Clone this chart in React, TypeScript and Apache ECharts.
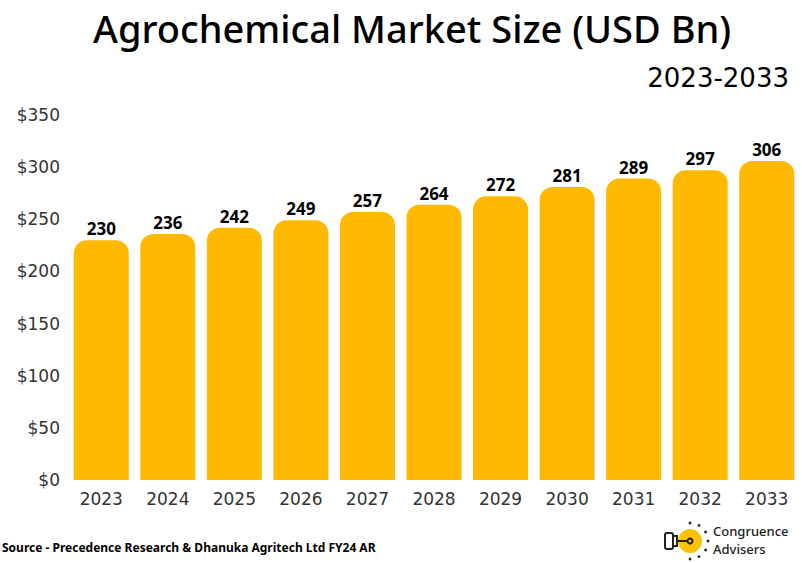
import React, { useEffect, useRef } from "react";
import * as echarts from "echarts";

const years = ["2023", "2024", "2025", "2026", "2027", "2028", "2029", "2030", "2031", "2032", "2033"];
const marketSize = [230, 236, 242, 249, 257, 264, 272, 281, 289, 297, 306];
const yTicks = [0, 50, 100, 150, 200, 250, 300, 350];

const FONT = "'DejaVu Sans', sans-serif";
const NOTO = "'Noto Sans', sans-serif";

export default function App() {
  const ref = useRef<HTMLDivElement>(null);
  useEffect(() => {
    if (!ref.current) return;
    document.body.style.margin = "0";
    const chart = echarts.init(ref.current, null, { renderer: "svg" });
    const dots: any[] = [];
    const cx = 690, cy = 541;
    for (let i = 0; i < 12; i++) {
      const a = (i * 30) * Math.PI / 180;
      if (Math.cos(a) < -0.4) continue;
      dots.push({
        type: "circle",
        shape: { cx: cx + Math.cos(a) * 18, cy: cy + Math.sin(a) * 18, r: 1.4 },
        style: { fill: "#222" },
      });
    }
    chart.setOption({
      animation: false,
      backgroundColor: "#ffffff",
      textStyle: { fontFamily: FONT },
      title: [
        {
          text: "Agrochemical Market Size (USD Bn)",
          left: 88,
          top: 4,
          textStyle: { fontSize: 38, fontWeight: 500, color: "#000", fontFamily: NOTO },
        },
        {
          text: "2023-2033",
          right: 8,
          top: 60,
          textStyle: { fontSize: 26, fontWeight: 500, color: "#000", fontFamily: FONT },
        },
      ],
      grid: { left: 68, right: 2, top: 115, bottom: 83, containLabel: false },
      xAxis: {
        type: "category",
        data: years,
        axisLine: { show: false },
        axisTick: { show: false },
        axisLabel: { color: "#333", fontSize: 17, margin: 10, fontFamily: FONT },
      },
      yAxis: {
        type: "value",
        min: yTicks[0],
        max: yTicks[yTicks.length - 1],
        interval: 50,
        splitLine: { show: false },
        axisLine: { show: false },
        axisTick: { show: false },
        axisLabel: { color: "#333", fontSize: 17, margin: 8, formatter: (v: number) => "$" + v, fontFamily: FONT },
      },
      series: [
        {
          type: "bar",
          data: marketSize,
          barWidth: 55,
          itemStyle: { color: "#FFB900", borderRadius: [13, 13, 0, 0] },
          label: {
            show: true,
            position: "top",
            distance: 3,
            color: "#000",
            fontSize: 17,
            fontWeight: "bold",
            fontFamily: NOTO,
          },
        },
      ],
      graphic: [
        {
          type: "text",
          left: 2,
          top: 541,
          style: {
            text: "Source - Precedence Research & Dhanuka Agritech Ltd FY24 AR",
            fontSize: 12,
            fontWeight: "bold",
            fill: "#000",
            fontFamily: NOTO,
          },
        },
        { type: "circle", shape: { cx, cy, r: 12 }, style: { fill: "#FFC107" } },
        ...dots,
        { type: "rect", shape: { x: 665, y: 533, width: 8, height: 16, r: 2 }, style: { fill: "#fff", stroke: "#222", lineWidth: 2 } },
        { type: "rect", shape: { x: 673, y: 536, width: 4, height: 10 }, style: { fill: "#fff", stroke: "#222", lineWidth: 2 } },
        { type: "line", shape: { x1: 677, y1: 541, x2: 688, y2: 541 }, style: { stroke: "#222", lineWidth: 2 } },
        { type: "circle", shape: { cx: 690, cy: 541, r: 2.5 }, style: { fill: "#FFC107", stroke: "#222", lineWidth: 2 } },
        {
          type: "text",
          left: 713,
          top: 524,
          style: { text: "Congruence", fontSize: 13, fill: "#222", fontFamily: NOTO, fontWeight: 500 },
        },
        {
          type: "text",
          left: 713,
          top: 542,
          style: { text: "Advisers", fontSize: 13, fill: "#222", fontFamily: NOTO, fontWeight: 500 },
        },
      ],
    });
    return () => chart.dispose();
  }, []);
  return <div ref={ref} style={{ width: 802, height: 563 }} />;
}
